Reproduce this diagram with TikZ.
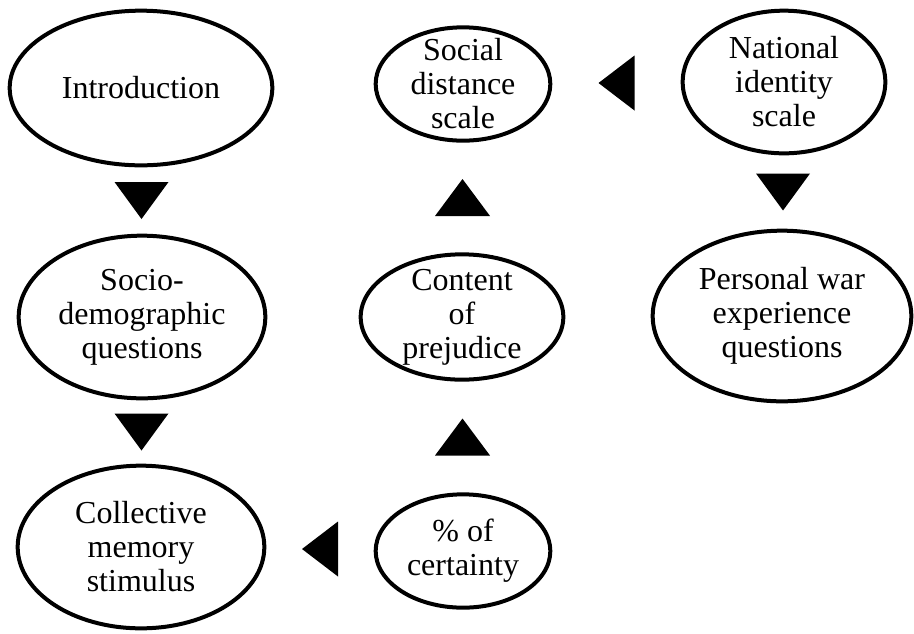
\documentclass[tikz,border=0pt]{standalone}
\usepackage{fontspec}
\setmainfont{Liberation Serif}
\usetikzlibrary{shapes.geometric,calc}

\tikzset{
  oval/.style={draw, ellipse, line width=3pt, inner sep=0pt},
  lbl/.style={align=center, inner sep=0pt, font=\fontsize{24}{25.5}\selectfont},
}

\begin{document}
\begin{tikzpicture}[x=0.75pt,y=0.75pt,yscale=-1,xscale=1]
\useasboundingbox (0,0) rectangle (914,633);

%Shape: Ellipse, left column
\node [oval, minimum width=197pt, minimum height=116pt, label={[lbl]center:{Introduction}}] (intro) at (141,88) {};
\node [oval, minimum width=185pt, minimum height=122pt, label={[lbl]center:{Socio-\\demographic\\questions}}] (socio) at (142,317) {};
\node [oval, minimum width=185pt, minimum height=122pt, label={[lbl]center:{Collective\\memory\\stimulus}}] (memory) at (141,547) {};

%Shape: Ellipse, middle column
\node [oval, minimum width=131pt, minimum height=85pt, label={[lbl]center:{Social\\distance\\scale}}] (distance) at (463,84) {};
\node [oval, minimum width=152pt, minimum height=94pt, label={[lbl]center:{Content\\of\\prejudice}}] (content) at (462,317) {};
\node [oval, minimum width=131pt, minimum height=85pt, label={[lbl]center:{\%~of\\certainty}}] (certainty) at (463,551) {};

%Shape: Ellipse, right column
\node [oval, minimum width=152pt, minimum height=107pt, label={[lbl]center:{National\\identity\\scale}}] (identity) at (784,82) {};
\node [oval, minimum width=194pt, minimum height=128pt, label={[lbl]center:{Personal war\\experience\\questions}}] (war) at (782,316) {};

%Shape: Triangle (down)
\fill ($(intro.south)!0.5!(socio.north)$) +(-27,-18.5) -- +(27,-18.5) -- +(0,18.5) -- cycle;
\fill ($(socio.south)!0.5!(memory.north)$) +(-27,-18.5) -- +(27,-18.5) -- +(0,18.5) -- cycle;
\fill ($(identity.south)!0.5!(war.north)$) +(-27,-18.5) -- +(27,-18.5) -- +(0,18.5) -- cycle;
%Shape: Triangle (up)
\fill ($(certainty.north)!0.5!(content.south)$) +(-27.5,18.5) -- +(27.5,18.5) -- +(0,-18.5) -- cycle;
\fill ($(content.north)!0.5!(distance.south)$) +(-27.5,18.5) -- +(27.5,18.5) -- +(0,-18.5) -- cycle;
%Shape: Triangle (left)
\fill ($(identity.west)!0.5!(distance.east)$) +(18,-27.5) -- +(18,27.5) -- +(-18,0) -- cycle;
\fill ($(certainty.west)!0.5!(memory.east)$) +(18,-27.5) -- +(18,27.5) -- +(-18,0) -- cycle;

\end{tikzpicture}
\end{document}
